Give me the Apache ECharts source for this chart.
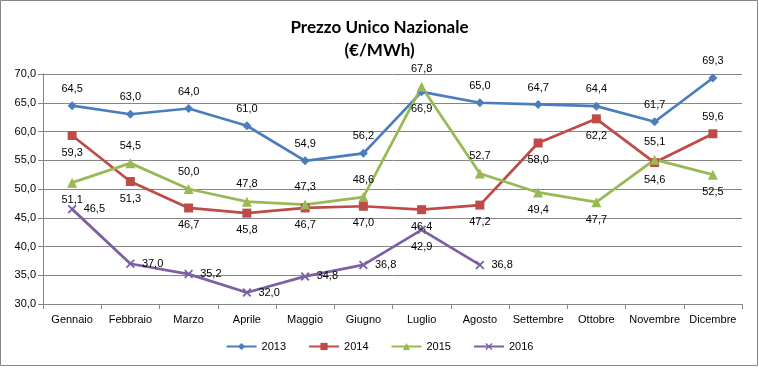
<!DOCTYPE html>
<html><head><meta charset="utf-8">
<script src="https://cdn.jsdelivr.net/npm/echarts@6/dist/echarts.min.js"></script>
<style>html,body{margin:0;padding:0;background:#fff}#c{width:759px;height:368px}</style>
</head><body><div id="c"></div>
<script>
var categories = ['Gennaio','Febbraio','Marzo','Aprile','Maggio','Giugno','Luglio','Agosto','Settembre','Ottobre','Novembre','Dicembre'];
var v2013 = [64.5, 63.0, 64.0, 61.0, 54.9, 56.2, 66.9, 65.0, 64.7, 64.4, 61.7, 69.3];
var v2014 = [59.3, 51.3, 46.7, 45.8, 46.7, 47.0, 46.4, 47.2, 58.0, 62.2, 54.6, 59.6];
var v2015 = [51.1, 54.5, 50.0, 47.8, 47.3, 48.6, 67.8, 52.7, 49.4, 47.7, 55.1, 52.5];
var v2016 = [46.5, 37.0, 35.2, 32.0, 34.8, 36.8, 42.9, 36.8];
var seriesNames = ['2013','2014','2015','2016'];
var yTicks = {min: 30, max: 70, interval: 5};

var fmt = function (v) { return Number(v).toFixed(1).replace('.', ','); };
var font = 'Liberation Sans';

function mk(values, defPos, overrides) {
  return values.map(function (v, i) {
    var pos = overrides[i] || defPos;
    return { value: v, label: { position: pos } };
  });
}

var X = 'path://M0,1.4L1.4,0L5,3.6L8.6,0L10,1.4L6.4,5L10,8.6L8.6,10L5,6.4L1.4,10L0,8.6L3.6,5Z';

function series(name, data, color, symbol, size) {
  return {
    name: name, type: 'line', data: data,
    symbol: symbol, symbolSize: size,
    lineStyle: { color: color, width: 2.75 },
    itemStyle: { color: color },
    label: { show: true, formatter: function (p) { return fmt(p.value); }, color: '#000', fontFamily: font, fontSize: 11, distance: 7 },
    emphasis: { disabled: true },
    animation: false
  };
}

var chart = echarts.init(document.getElementById('c'));
chart.setOption({
  backgroundColor: '#fff',
  title: {
    text: 'Prezzo Unico Nazionale\n(€/MWh)',
    left: 'center', top: 11,
    textStyle: { fontFamily: 'Lato', fontWeight: 'bold', fontSize: 17, lineHeight: 23, color: '#000' }
  },
  graphic: [{ type: 'rect', shape: { x: 0.5, y: 0.5, width: 757, height: 365 }, style: { fill: 'none', stroke: '#868686', lineWidth: 1 }, silent: true }],
  grid: { left: 43, right: 17, top: 74, bottom: 64 },
  legend: {
    bottom: 11, left: 'center', itemWidth: 30, itemHeight: 9, itemGap: 22,
    textStyle: { fontFamily: font, fontSize: 11, color: '#000' },
    data: seriesNames
  },
  xAxis: {
    type: 'category', data: categories, boundaryGap: true,
    axisLine: { lineStyle: { color: '#868686' } },
    axisTick: { show: true, length: 5, interval: 0, lineStyle: { color: '#868686' } },
    axisLabel: { color: '#000', fontFamily: font, fontSize: 11, margin: 10, interval: 0 }
  },
  yAxis: {
    type: 'value', min: yTicks.min, max: yTicks.max, interval: yTicks.interval,
    axisLine: { show: true, lineStyle: { color: '#868686' } },
    axisTick: { show: true, length: 5, lineStyle: { color: '#868686' } },
    splitLine: { lineStyle: { color: '#868686' } },
    axisLabel: { color: '#000', fontFamily: font, fontSize: 11, margin: 7, formatter: fmt }
  },
  series: [
    series('2013', mk(v2013, 'top', {6: 'bottom'}), '#4A7EBB', 'diamond', 9),
    series('2014', mk(v2014, 'bottom', {11: 'top'}), '#BE4B48', 'rect', 9),
    series('2015', mk(v2015, 'top', {0: 'bottom', 8: 'bottom', 9: 'bottom', 11: 'bottom'}), '#98B954', 'triangle', 10),
    series('2016', mk(v2016, 'right', {6: 'bottom'}), '#7D60A0', X, 9)
  ]
});
</script></body></html>
